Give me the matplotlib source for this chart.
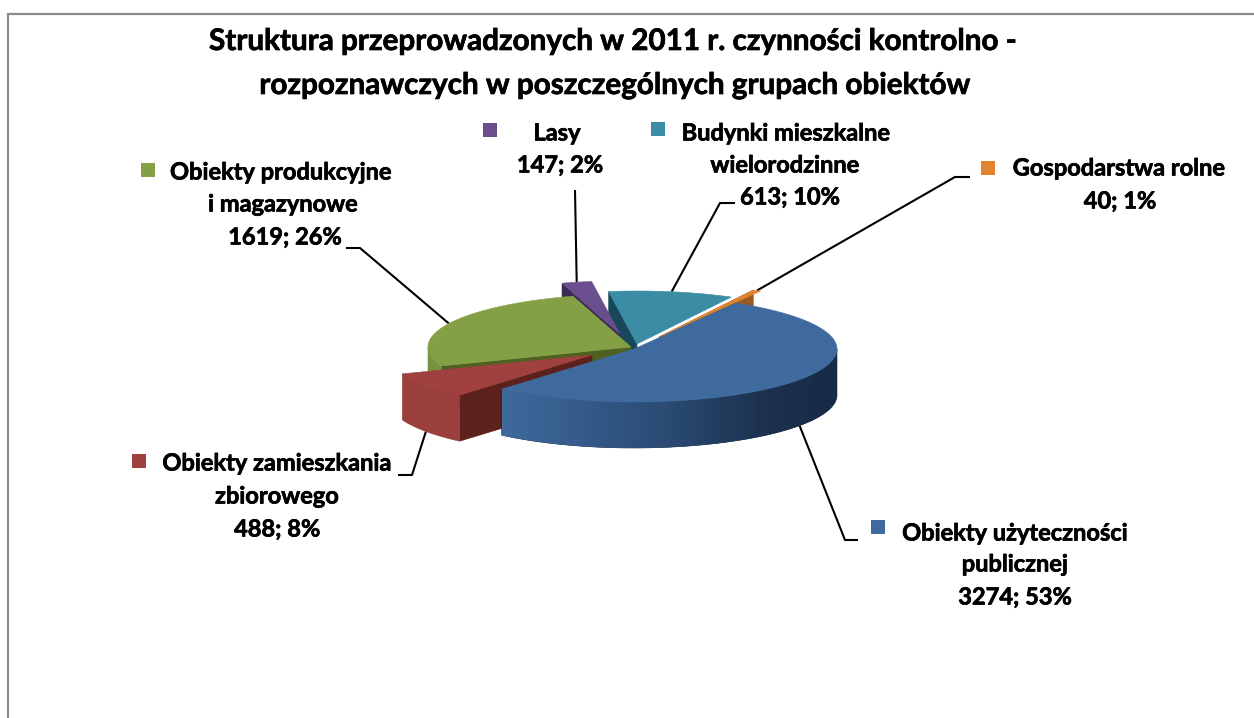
import numpy as np
import matplotlib
matplotlib.use("Agg")
import matplotlib.pyplot as plt
import matplotlib.patheffects as pe
from matplotlib.patches import Polygon, Rectangle
from matplotlib.colors import LinearSegmentedColormap

# --- data ---
categories = ["Obiekty użyteczności publicznej", "Obiekty zamieszkania zbiorowego",
              "Obiekty produkcyjne i magazynowe", "Lasy",
              "Budynki mieszkalne wielorodzinne", "Gospodarstwa rolne"]
values = [3274, 488, 1619, 147, 613, 40]
percents = ["53%", "8%", "26%", "2%", "10%", "1%"]
title_lines = ["Struktura przeprowadzonych w 2011 r. czynności kontrolno -",
               "rozpoznawczych w poszczególnych grupach obiektów"]

# --- style and layout (pixels) ---
top_colors = ["#3F6A9E", "#A04140", "#84A044", "#6A4E8E", "#3A8DA5", "#E0842F"]
wall_colors = ["#3F6A9E", "#5C211D", "#4F6120", "#3A2A55", "#17485A", "#9A5B22"]
rim_colors = [None, "#9B3F3D", "#76913F", None, None, None]
key_colors = ["#3F6A9E", "#A04140", "#84A044", "#6A4E8E", "#3A8DA5", "#E0842F"]
offsets = [(0, 2), (-42, 8), (-3, 0), (-14, -13), (3, -3), (25, -10)]
CX, CY, RX, RY, DEPTH = 634, 347, 203, 53, 46
START = 60.0
FONT = "Lato"
LABEL_SIZE = 17
TITLE_SIZE = 21.35
BOLDER = [pe.withStroke(linewidth=0.5, foreground="black")]

label_lines = [["Obiekty użyteczności", "publicznej"], ["Obiekty zamieszkania", "zbiorowego"],
               ["Obiekty produkcyjne", "i magazynowe"], ["Lasy"],
               ["Budynki mieszkalne", "wielorodzinne"], ["Gospodarstwa rolne"]]
line_pos = [[(1015, 533), (1015, 564), (1015, 597)],
            [(277, 463), (277, 496), (277, 529)],
            [(281, 172), (283, 204), (285, 237)],
            [(557, 133), (560, 165)],
            [(786, 133), (785, 165), (790, 197)],
            [(1119, 168), (1120, 201)]]
key_pos = [(878, 527), (139, 461), (148, 170), (490, 130), (658, 129), (988, 168)]
# leader: label end, elbow (the last point is computed on the wedge)
leaders = [[(858, 540), (845, 540)], [(398, 475), (412, 475)], [(346, 248), (360, 248)],
           [(575, 190)], [(735, 203), (720, 203)], [(970, 177), (955, 177)]]
leader_depth = [True, True, False, False, False, False]

fig = plt.figure(figsize=(12.54, 7.18), dpi=100, facecolor="white")
ax = fig.add_axes([0, 0, 1, 1])
ax.set_xlim(0, 1254)
ax.set_ylim(718, 0)
ax.axis("off")

# wedge angles (clockwise from START)
vals = np.array(values, dtype=float)
sweeps = vals / vals.sum() * 360
t0 = START - np.concatenate([[0], np.cumsum(sweeps)[:-1]])
t1 = t0 - sweeps


def pt(i, t, dz=0):
    dx, dy = offsets[i]
    a = np.radians(t)
    return CX + dx + RX * np.cos(a), CY + dy - RY * np.sin(a) + dz


def arc(i, a, b, dz=0, n=80):
    return [pt(i, t, dz) for t in np.linspace(a, b, n)]


def apex(i, dz=0):
    return CX + offsets[i][0], CY + offsets[i][1] + dz


def poly(xy, color, z):
    p = Polygon(xy, closed=True, facecolor=color, edgecolor=color, lw=0.4, zorder=z)
    ax.add_patch(p)
    return p


def side(i, t, color, z):
    poly([pt(i, t), pt(i, t, DEPTH), apex(i, DEPTH), apex(i)], color, z)


def rim(i, a, b, color, z):
    return poly(arc(i, a, b) + arc(i, b, a, DEPTH), color, z)


def top(i, z):
    poly([apex(i)] + arc(i, t0[i], t1[i]), top_colors[i], z)


# back walls
side(4, t0[4], wall_colors[4], 1)
side(3, t0[3], wall_colors[3], 1.5)
side(2, t0[2], wall_colors[2], 1.6)
rim(2, -180, t0[2], rim_colors[2], 1.7)
# upper surfaces of the rear wedges
top(2, 2)
top(3, 3)
top(4, 3)
side(5, t0[5], wall_colors[5], 3.5)
top(5, 3.6)
# exploded red wedge
side(1, t0[1], wall_colors[1], 4)
rim(1, t0[1], t1[1], rim_colors[1], 4.1)
top(1, 4.2)
# large blue wedge with shaded rim (gradient image clipped to the rim shape)
xl, xr = pt(0, t1[0])[0], pt(0, 0)[0]
cmap = LinearSegmentedColormap.from_list(
    "rim", [(0, "#3F6A9E"), (0.5, "#2A4A72"), (0.8, "#1B304C"), (1, "#172B45")])
clip = rim(0, t1[0], 0, "#172B45", 5)
im = ax.imshow(np.linspace(0, 1, 256)[None, :], cmap=cmap, aspect="auto",
               extent=(xl, xr, CY + 120, CY - 60), zorder=5.1, interpolation="bilinear")
im.set_clip_path(clip)
ax.set_xlim(0, 1254)
ax.set_ylim(718, 0)
top(0, 6)

# leader lines
for i, pts in enumerate(leaders):
    mid = (t0[i] + t1[i]) / 2
    end = pt(i, mid, DEPTH if leader_depth[i] else 0)
    xs = [p[0] for p in pts] + [end[0]]
    ys = [p[1] for p in pts] + [end[1]]
    ax.plot(xs, ys, color="black", lw=1.5, zorder=0.5, solid_capstyle="butt")

# labels
for i, name in enumerate(categories):
    lines = label_lines[i] + [f"{values[i]}; {percents[i]}"]
    for s, (x, y) in zip(lines, line_pos[i]):
        ax.text(x, y, s, ha="center", va="center", fontsize=LABEL_SIZE, fontweight="bold",
                family=FONT, color="black", zorder=8, path_effects=BOLDER)
    kx, ky = key_pos[i]
    ax.add_patch(Rectangle((kx - 7, ky - 7), 14, 14, facecolor=key_colors[i], edgecolor="none", zorder=8))

# title
for s, x, y in zip(title_lines, (612, 614), (41, 85)):
    ax.text(x, y, s, ha="center", va="center", fontsize=TITLE_SIZE, fontweight="bold",
            family=FONT, color="black", path_effects=BOLDER)

# chart frame
ax.plot([7.5, 7.5, 1254], [718, 14, 14], color="#8C8C8C", lw=1.6, zorder=0.1, solid_joinstyle="miter")

fig.savefig("out.png", dpi=100)
